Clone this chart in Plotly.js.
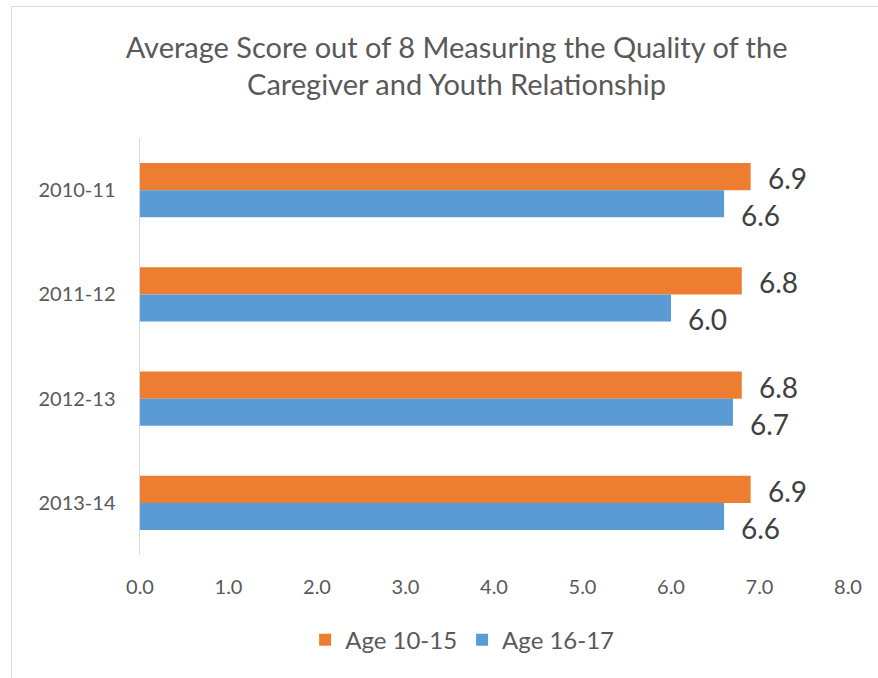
<!DOCTYPE html>
<html>
<head>
<meta charset="utf-8">
<script src="https://cdn.plot.ly/plotly-3.0.1.min.js"></script>
<style>
html,body{margin:0;padding:0;background:#fff;}
#wrap{position:relative;width:878px;height:678px;overflow:hidden;}
#chart{width:878px;height:678px;}
#frame{position:absolute;left:11px;top:6px;width:900px;height:700px;border:1.5px solid #d9d9d9;pointer-events:none;}
</style>
</head>
<body>
<div id="wrap"><div id="chart"></div><div id="frame"></div></div>
<script>
const categories = ["2010-11", "2011-12", "2012-13", "2013-14"];
const age1015 = [6.9, 6.8, 6.8, 6.9];
const age1617 = [6.6, 6.0, 6.7, 6.6];
const seriesNames = ["Age 10-15", "Age 16-17"];
const xTickVals = [0, 1, 2, 3, 4, 5, 6, 7, 8];
const xTickText = ["0.0", "1.0", "2.0", "3.0", "4.0", "5.0", "6.0", "7.0", "8.0"];

const FONT = "Lato, 'Open Sans', sans-serif";
const orange = "#ED7D31", blue = "#5B9BD5";

const traces = [
  {type: "bar", orientation: "h", name: seriesNames[0], y: categories, x: age1015,
   marker: {color: orange, line: {width: 0}}, hoverinfo: "none"},
  {type: "bar", orientation: "h", name: seriesNames[1], y: categories, x: age1617,
   marker: {color: blue, line: {width: 0}}, hoverinfo: "none"}
];

const annotations = [];
categories.forEach((c, i) => {
  annotations.push({x: age1015[i], y: c, xref: "x", yref: "y", text: age1015[i].toFixed(1),
    showarrow: false, xanchor: "left", yanchor: "middle", xshift: 15, yshift: 12,
    font: {family: FONT, size: 28, color: "#404040"}});
  annotations.push({x: age1617[i], y: c, xref: "x", yref: "y", text: age1617[i].toFixed(1),
    showarrow: false, xanchor: "left", yanchor: "middle", xshift: 15, yshift: -25,
    font: {family: FONT, size: 28, color: "#404040"}});
});

const layout = {
  width: 878, height: 678,
  margin: {l: 140, r: 30, t: 138, b: 123},
  paper_bgcolor: "#fff", plot_bgcolor: "#fff",
  font: {family: FONT, color: "#595959"},
  title: {text: "Average Score out of 8 Measuring the Quality of the<br>Caregiver and Youth Relationship",
    x: 0.52, xanchor: "center", yref: "container", y: 0.915, yanchor: "top",
    font: {family: FONT, size: 29, color: "#595959"}},
  barmode: "group", bargap: 0.48, bargroupgap: 0,
  xaxis: {range: [0, 8], tickvals: xTickVals, ticktext: xTickText, showgrid: false,
    zeroline: false, showline: false, ticks: "", ticklabelstandoff: 18,
    tickfont: {family: FONT, size: 20, color: "#595959"}, fixedrange: true},
  yaxis: {type: "category", autorange: "reversed", showgrid: false, zeroline: false, showline: true,
    linecolor: "#d9d9d9", linewidth: 1.5, ticks: "", ticklabelstandoff: 19,
    tickfont: {family: FONT, size: 20, color: "#595959"}, fixedrange: true},
  legend: {orientation: "h", x: 0.455, xanchor: "center", y: -0.204, yanchor: "middle",
    font: {family: FONT, size: 24, color: "#595959"}, traceorder: "normal"},
  annotations: annotations,
  showlegend: true
};

Plotly.newPlot("chart", traces, layout, {displayModeBar: false, staticPlot: true});
</script>
</body>
</html>
